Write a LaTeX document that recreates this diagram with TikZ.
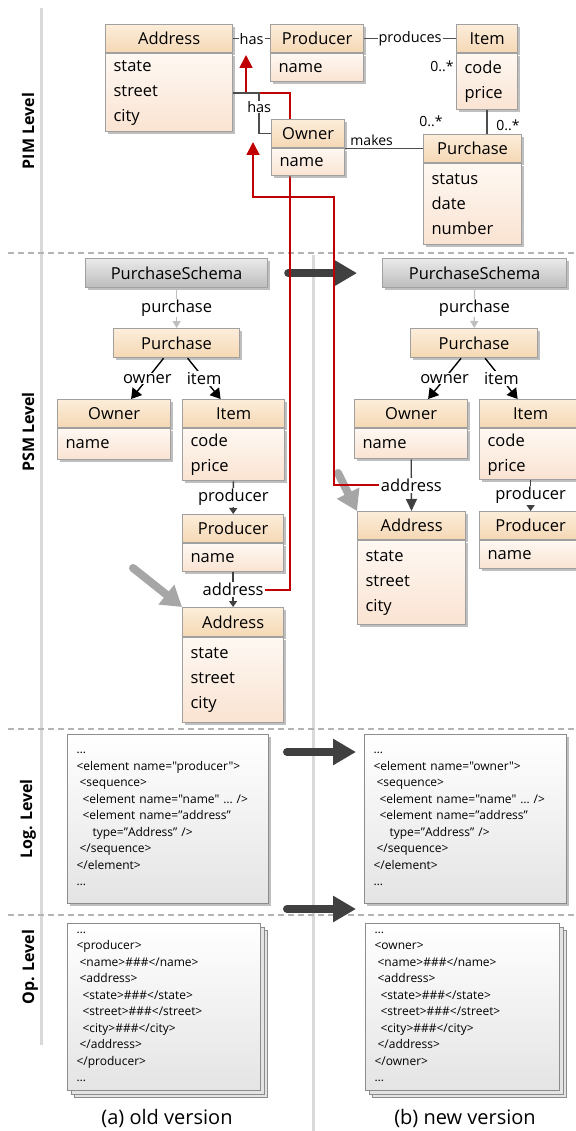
\documentclass[tikz,border=0pt]{standalone}
\usepackage{fontspec}
\setmainfont{Open Sans}
\newfontfamily\xmlfont{Open Sans}
\usetikzlibrary{positioning, calc, arrows.meta, shadows}

\definecolor{boxline}{RGB}{160,160,160}
\definecolor{headtop}{RGB}{252,237,218}
\definecolor{headbot}{RGB}{245,216,180}
\definecolor{bodytop}{RGB}{254,248,242}
\definecolor{bodybot}{RGB}{250,227,210}
\definecolor{schematop}{RGB}{234,234,234}
\definecolor{schemabot}{RGB}{188,188,188}
\definecolor{refred}{RGB}{192,0,0}
\definecolor{darkarrow}{RGB}{64,64,64}
\definecolor{hintgray}{RGB}{166,166,166}
\definecolor{sepgray}{RGB}{217,217,217}
\definecolor{dashgray}{RGB}{180,180,180}
\definecolor{edgegray}{RGB}{77,77,77}
\definecolor{xmlline}{RGB}{140,140,140}
\definecolor{xmlbot}{RGB}{228,228,228}

\tikzset{
  boxshadow/.style={drop shadow={shadow xshift=2.5pt, shadow yshift=-2.5pt, fill=black!45, opacity=0.55}},
  clshead/.style={draw=boxline, line width=1.2pt, top color=headtop, bottom color=headbot, minimum height=28pt, inner sep=0pt, font=\fontsize{16.5}{20}\selectfont, boxshadow},
  clsbody/.style={draw=boxline, line width=1.2pt, top color=bodytop, bottom color=bodybot, inner xsep=8pt, inner ysep=0pt, align=left, font=\fontsize{16.5}{25}\selectfont, boxshadow},
  schemabox/.style={draw=boxline, line width=1.2pt, top color=schematop, bottom color=schemabot, minimum height=29pt, inner sep=0pt, font=\fontsize{16.5}{20}\selectfont, boxshadow},
  xmlbox/.style={draw=xmlline, line width=1.2pt, top color=white, bottom color=xmlbot, inner xsep=9pt, inner ysep=0pt, align=left, font=\xmlfont\fontsize{12}{16.5}\selectfont, boxshadow},
  docbox/.style={draw=xmlline, line width=1.2pt, top color=white, bottom color=xmlbot, inner xsep=9pt, inner ysep=0pt, align=left, font=\xmlfont\fontsize{12}{16.5}\selectfont,
    double copy shadow={shadow xshift=3.5pt, shadow yshift=-3.5pt, draw=xmlline, fill=xmlbot, opacity=1}},
  levelname/.style={rotate=90, font=\fontsize{16}{19}\selectfont\bfseries},
  caption/.style={font=\fontsize{20}{24}\selectfont},
  sepline/.style={draw=sepgray, line width=3pt},
  levelsep/.style={draw=dashgray, line width=2.5pt, dash pattern=on 6pt off 4pt},
  assoc/.style={draw=edgegray, line width=1.5pt},
  pimlbl/.style={fill=white, inner xsep=1pt, inner ysep=0.5pt, font=\fontsize{14.5}{17}\selectfont},
  mult/.style={inner sep=1pt, font=\fontsize{14}{17}\selectfont},
  psmlbl/.style={fill=white, inner sep=1pt, font=\fontsize{16.5}{20}\selectfont},
  schemaedge/.style={draw=black!25, line width=1.3pt, -{Triangle[width=8pt,length=7pt]}},
  roleedge/.style={draw=black, line width=1.4pt, -{Triangle[width=12pt,length=10pt]}},
  childedge/.style={draw=darkarrow, line width=1.4pt, -{Triangle[width=8pt,length=6pt]}},
  refline/.style={draw=refred, line width=1.8pt, -{Triangle[width=13pt,length=13pt]}},
  bigarrow/.style={draw=darkarrow, line width=8pt, line cap=round, -{Triangle[width=25pt,length=23pt]}},
  hintarrow/.style={draw=hintgray, line width=8pt, line cap=round, -{Triangle[width=24pt,length=20pt]}}
}

\begin{document}
\begin{tikzpicture}[x=1pt, y=-1pt]
  \useasboundingbox (0,0) rectangle (575,1131);
  \fill[white] (0,0) rectangle (575,1131);

  % Level separators
  \draw[sepline] (41,8) -- (41,1045);
  \draw[sepline] (313,255) -- (313,1131);
  \draw[levelsep] (8,253) -- (575,253);
  \draw[levelsep] (8,729) -- (575,729);
  \draw[levelsep] (8,915) -- (575,915);

  % Level names
  \node[levelname] (pimlevel) at (28,131) {PIM Level};
  \node[levelname] (psmlevel) at (28,432) {PSM Level};
  \node[levelname] (loglevel) at (28,819) {Log. Level};
  \node[levelname] (oplevel) at (30,967) {Op. Level};

  % PSM, old version
  \node[schemabox, minimum width=182pt, anchor=north west] (lschema) at (85,258) {PurchaseSchema};
  \node[clshead, minimum width=126pt, minimum height=29pt, anchor=north west] (lpur) at (113,328) {Purchase};
  \node[clshead, minimum width=113pt, anchor=north west] (lown) at (57,399) {Owner};
  \node[clsbody, text width=97pt, minimum height=31pt, below=0pt of lown] (lownb) {name};
  \node[clshead, minimum width=102pt, anchor=north west] (litem) at (182,399) {Item};
  \node[clsbody, text width=86pt, minimum height=52pt, below=0pt of litem] (litemb) {code\\price};
  \node[clshead, minimum width=101pt, anchor=north west] (lprod) at (182,514) {Producer};
  \node[clsbody, text width=85pt, minimum height=28pt, below=0pt of lprod] (lprodb) {name};
  \node[clshead, minimum width=101pt, minimum height=29pt, anchor=north west] (laddr) at (182,607) {Address};
  \node[clsbody, text width=85pt, minimum height=85pt, below=0pt of laddr] (laddrb) {state\\street\\city};

  \draw[schemaedge] (lschema) -- node[psmlbl] {purchase} (lpur);
  \draw[roleedge] ($(lpur.south)+(-13,0)$) -- node[psmlbl] {owner} ($(lown.north)+(17,0)$);
  \draw[roleedge] ($(lpur.south)+(11,0)$) -- node[psmlbl] {item} ($(litem.north)+(-13,0)$);
  \draw[childedge] (litemb) -- node[psmlbl] {producer} (lprod);
  \draw[childedge] (lprodb) -- node[psmlbl] (lpaddr) {address} (laddr);

  % PSM, new version
  \node[schemabox, minimum width=184pt, anchor=north west] (rschema) at (382,258) {PurchaseSchema};
  \node[clshead, minimum width=127pt, minimum height=29pt, anchor=north west] (rpur) at (410,328) {Purchase};
  \node[clshead, minimum width=113pt, anchor=north west] (rown) at (354,399) {Owner};
  \node[clsbody, text width=97pt, minimum height=30pt, below=0pt of rown] (rownb) {name};
  \node[clshead, minimum width=102pt, anchor=north west] (ritem) at (479,399) {Item};
  \node[clsbody, text width=86pt, minimum height=51pt, below=0pt of ritem] (ritemb) {code\\price};
  \node[clshead, minimum width=108pt, anchor=north west] (raddr) at (357,511) {Address};
  \node[clsbody, text width=92pt, minimum height=84pt, below=0pt of raddr] (raddrb) {state\\street\\city};
  \node[clshead, minimum width=102pt, anchor=north west] (rprod) at (479,511) {Producer};
  \node[clsbody, text width=86pt, minimum height=28pt, below=0pt of rprod] (rprodb) {name};

  \draw[schemaedge] (rschema) -- node[psmlbl] {purchase} (rpur);
  \draw[roleedge] ($(rpur.south)+(-13,0)$) -- node[psmlbl] {owner} ($(rown.north)+(17,0)$);
  \draw[roleedge] ($(rpur.south)+(11,0)$) -- node[psmlbl] {item} ($(ritem.north)+(-13,0)$);
  \draw[childedge] (ritemb) -- node[psmlbl] {producer} (rprod);
  \draw[childedge, -{Triangle[width=11pt,length=12pt]}] (rownb) -- node[psmlbl] (rpaddr) {address} (raddr);

  % Evolution arrows
  \draw[bigarrow] ($(lschema.east)+(20,0)$) -- ($(rschema.west)+(-25,0)$);
  \coordinate (logfrom) at (287,752);
  \coordinate (logto) at (356,752);
  \draw[bigarrow] (logfrom) -- (logto);
  \coordinate (opfrom) at (287,909);
  \coordinate (opto) at (356,909);
  \draw[bigarrow] (opfrom) -- (opto);

  \coordinate (lhint) at (133,568);
  \draw[hintarrow] (lhint) -- (laddr.north west);
  \coordinate (rhint) at (338,473);
  \draw[hintarrow] (rhint) -- (raddr.north west);

  % Mapping to PIM
  \coordinate (hasup) at (246,55);
  \coordinate (hasbend) at (290,93);
  \draw[refline] (lpaddr.east) -| (hasbend) -| (hasup);
  \coordinate (ownup) at (253,142);
  \coordinate (ownbend) at (334,197);
  \draw[refline] (rpaddr.west) -| (ownbend) -| (ownup);

  % PIM
  \node[clshead, minimum width=127pt, anchor=north west] (pimaddr) at (105,24) {Address};
  \node[clsbody, text width=111pt, minimum height=78pt, below=0pt of pimaddr] (pimaddrb) {state\\street\\city};
  \node[clshead, minimum width=93pt, anchor=north west] (pimprod) at (270,24) {Producer};
  \node[clsbody, text width=77pt, minimum height=28pt, below=0pt of pimprod] (pimprodb) {name};
  \node[clshead, minimum width=61pt, anchor=north west] (pimitem) at (456,24) {Item};
  \node[clsbody, text width=45pt, minimum height=56pt, below=0pt of pimitem] (pimitemb) {code\\price};
  \node[clshead, minimum width=73pt, anchor=north west] (pimown) at (271,119) {Owner};
  \node[clsbody, text width=57pt, minimum height=27pt, below=0pt of pimown] (pimownb) {name};
  \node[clshead, minimum width=98pt, anchor=north west] (pimpur) at (423,134) {Purchase};
  \node[clsbody, text width=82pt, minimum height=81pt, below=0pt of pimpur] (pimpurb) {status\\date\\number};

  \draw[assoc] (pimaddr.east) -- node[pimlbl] {has} (pimprod.west);
  \draw[assoc] (pimprod.east) -- node[pimlbl] {produces} (pimitem.west);
  \draw[assoc] (pimaddrb.east) -- ++(26,0) |- node[pimlbl, pos=0.17] {has} (pimown.west);
  \draw[assoc] (pimpur.west) -- node[mult, pos=0.66, above=1pt] (makeslbl) {makes} (pimpur.west -| pimownb.east);
  \draw[assoc] (pimitemb.south) -- (pimitemb.south |- pimpur.north);
  \node[mult] (multa) at (442,66) {0..*};
  \node[mult] (multb) at (431,121) {0..*};
  \node[mult] (multc) at (508,125) {0..*};

  % Logical level
  \node[xmlbox, text width=183pt, minimum height=169pt, anchor=north west] (lxml) at (67,734) {%
    …\\
    <element name="producer">\\
    \hspace*{3pt}<sequence>\\
    \hspace*{6pt}<element name="name" … />\\
    \hspace*{6pt}<element name=”address”\\
    \hspace*{16pt}type=”Address” />\\
    \hspace*{3pt}</sequence>\\
    </element>\\
    …};
  \node[xmlbox, text width=184pt, minimum height=169pt, anchor=north west] (rxml) at (364,734) {%
    …\\
    <element name="owner">\\
    \hspace*{3pt}<sequence>\\
    \hspace*{6pt}<element name="name" … />\\
    \hspace*{6pt}<element name=”address”\\
    \hspace*{16pt}type=”Address” />\\
    \hspace*{3pt}</sequence>\\
    </element>\\
    …};

  % Operational level
  \node[docbox, text width=175pt, minimum height=167pt, anchor=north west] (lop) at (67,923) {%
    …\\
    <producer>\\
    \hspace*{3pt}<name>\#\#\#</name>\\
    \hspace*{3pt}<address>\\
    \hspace*{6pt}<state>\#\#\#</state>\\
    \hspace*{6pt}<street>\#\#\#</street>\\
    \hspace*{6pt}<city>\#\#\#</city>\\
    \hspace*{3pt}</address>\\
    </producer>\\
    …};
  \node[docbox, text width=176pt, minimum height=167pt, anchor=north west] (rop) at (365,923) {%
    …\\
    <owner>\\
    \hspace*{3pt}<name>\#\#\#</name>\\
    \hspace*{3pt}<address>\\
    \hspace*{6pt}<state>\#\#\#</state>\\
    \hspace*{6pt}<street>\#\#\#</street>\\
    \hspace*{6pt}<city>\#\#\#</city>\\
    \hspace*{3pt}</address>\\
    </owner>\\
    …};

  % Captions
  \node[caption] (capold) at (167,1118) {(a) old version};
  \node[caption] (capnew) at (465,1118) {(b) new version};
\end{tikzpicture}
\end{document}
